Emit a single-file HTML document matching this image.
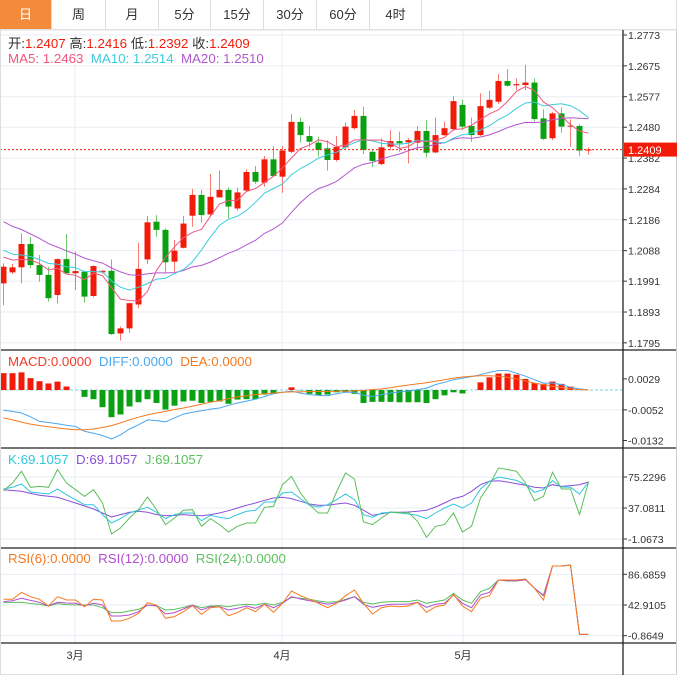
<!DOCTYPE html>
<html><head><meta charset="utf-8"><style>
html,body{margin:0;padding:0;background:#fff;}
body{width:677px;height:675px;overflow:hidden;position:relative;font-family:"Liberation Sans","Noto Sans CJK SC",sans-serif;}
.tabs{position:absolute;left:0;top:0;width:676px;height:29px;border-bottom:1px solid #ddd;border-right:1px solid #ddd;display:flex;}
.tab{height:29px;line-height:29px;text-align:center;font-size:13px;color:#333;border-right:1px solid #ddd;box-sizing:border-box;}
.tab.on{background:#f28c3c;color:#fff;}
svg{position:absolute;left:0;top:0;}
</style></head><body>
<div class="tabs">
<div class="tab on" style="width:52px">日</div>
<div class="tab" style="width:54px">周</div>
<div class="tab" style="width:53px">月</div>
<div class="tab" style="width:52px">5分</div>
<div class="tab" style="width:53px">15分</div>
<div class="tab" style="width:53px">30分</div>
<div class="tab" style="width:53px">60分</div>
<div class="tab" style="width:52px">4时</div>
</div>
<svg id="chart" width="677" height="675" style="top:0"></svg>
<script>
const opens=[1.1984,1.2019,1.2035,1.2109,1.2042,1.2011,1.1947,1.2061,1.2016,1.2021,1.1944,1.2019,1.2024,1.1825,1.1841,1.1917,1.2060,1.2180,1.2154,1.2053,1.2097,1.2199,1.2265,1.2203,1.2257,1.2281,1.2222,1.2279,1.2338,1.2304,1.2378,1.2323,1.2402,1.2497,1.2452,1.2431,1.2413,1.2376,1.2416,1.2477,1.2516,1.2402,1.2363,1.2418,1.2436,1.2432,1.2431,1.2468,1.2400,1.2455,1.2474,1.2551,1.2484,1.2455,1.2542,1.2561,1.2627,1.2613,1.2614,1.2622,1.2508,1.2445,1.2524,1.2482,1.2484,1.2407];
const highs=[1.2048,1.2046,1.2143,1.2132,1.2074,1.2037,1.2064,1.2141,1.2085,1.2024,1.2042,1.2027,1.2060,1.1847,1.1923,1.2113,1.2198,1.2201,1.2159,1.2122,1.2198,1.2284,1.2281,1.2332,1.2342,1.2289,1.2288,1.2346,1.2357,1.2389,1.2420,1.2420,1.2522,1.2511,1.2484,1.2450,1.2439,1.2452,1.2495,1.2535,1.2545,1.2408,1.2445,1.2471,1.2466,1.2445,1.2484,1.2503,1.2511,1.2498,1.2579,1.2567,1.2511,1.2588,1.2596,1.2649,1.2665,1.2635,1.2678,1.2635,1.2537,1.2529,1.2543,1.2505,1.2490,1.2416];
const lows=[1.1915,1.2014,1.1984,1.2032,1.1989,1.1926,1.1921,1.2016,1.1963,1.1923,1.1940,1.2016,1.1820,1.1802,1.1827,1.1905,1.2046,1.2132,1.2016,1.2021,1.2095,1.2164,1.2177,1.2199,1.2257,1.2191,1.2215,1.2275,1.2300,1.2291,1.2323,1.2272,1.2397,1.2431,1.2416,1.2387,1.2342,1.2371,1.2410,1.2473,1.2395,1.2353,1.2360,1.2406,1.2402,1.2365,1.2408,1.2384,1.2397,1.2452,1.2469,1.2471,1.2434,1.2452,1.2537,1.2554,1.2609,1.2598,1.2598,1.2498,1.2439,1.2439,1.2463,1.2418,1.2389,1.2392];
const closes=[1.2037,1.2035,1.2109,1.2042,1.2011,1.1937,1.2061,1.2016,1.2023,1.1942,1.2039,1.2024,1.1823,1.1841,1.1921,1.2030,1.2178,1.2154,1.2051,1.2088,1.2174,1.2265,1.2201,1.2259,1.2281,1.2228,1.2273,1.2338,1.2307,1.2378,1.2325,1.2406,1.2497,1.2455,1.2434,1.2408,1.2376,1.2417,1.2482,1.2516,1.2408,1.2373,1.2416,1.2436,1.2429,1.2439,1.2468,1.2399,1.2455,1.2477,1.2563,1.2482,1.2455,1.2547,1.2567,1.2627,1.2612,1.2617,1.2622,1.2506,1.2443,1.2524,1.2482,1.2485,1.2406,1.2409];
const prevCloses=[1.2330,1.2310,1.2325,1.2290,1.2270,1.2285,1.2250,1.2230,1.2200,1.2210,1.2170,1.2130,1.2090,1.2110,1.2060,1.2080,1.2100,1.2050,1.2070];
const priceTicks=[1.2773,1.2675,1.2577,1.2480,1.2382,1.2284,1.2186,1.2088,1.1991,1.1893,1.1795];
const macdBars=[0.0044,0.0044,0.0046,0.0031,0.0023,0.0017,0.0022,0.0009,0.0000,-0.0018,-0.0024,-0.0045,-0.0071,-0.0064,-0.0043,-0.0032,-0.0024,-0.0034,-0.0051,-0.0041,-0.0030,-0.0028,-0.0034,-0.0031,-0.0030,-0.0036,-0.0025,-0.0024,-0.0024,-0.0012,-0.0010,0.0000,0.0007,-0.0001,-0.0010,-0.0013,-0.0012,-0.0006,-0.0005,-0.0010,-0.0034,-0.0031,-0.0031,-0.0031,-0.0032,-0.0032,-0.0032,-0.0034,-0.0024,-0.0014,-0.0006,-0.0009,0.0000,0.0020,0.0033,0.0043,0.0043,0.0040,0.0029,0.0018,0.0016,0.0022,0.0016,0.0009,0.0001,0.0000];
const diffVals=[-0.0053,-0.0056,-0.0060,-0.0070,-0.0082,-0.0085,-0.0088,-0.0092,-0.0095,-0.0108,-0.0113,-0.0119,-0.0128,-0.0117,-0.0102,-0.0091,-0.0078,-0.0080,-0.0083,-0.0073,-0.0063,-0.0058,-0.0054,-0.0050,-0.0047,-0.0040,-0.0034,-0.0029,-0.0024,-0.0017,-0.0010,-0.0006,-0.0003,-0.0008,-0.0012,-0.0014,-0.0015,-0.0010,-0.0006,-0.0006,-0.0014,-0.0017,-0.0012,-0.0008,-0.0005,-0.0003,0.0001,0.0005,0.0014,0.0020,0.0027,0.0031,0.0035,0.0040,0.0046,0.0051,0.0051,0.0044,0.0036,0.0027,0.0018,0.0018,0.0014,0.0007,0.0003,0.0000];
const deaVals=[-0.0073,-0.0078,-0.0084,-0.0089,-0.0093,-0.0096,-0.0099,-0.0102,-0.0104,-0.0104,-0.0102,-0.0098,-0.0093,-0.0086,-0.0078,-0.0071,-0.0065,-0.0060,-0.0056,-0.0051,-0.0047,-0.0042,-0.0037,-0.0032,-0.0028,-0.0023,-0.0018,-0.0015,-0.0012,-0.0010,-0.0008,-0.0006,-0.0005,-0.0005,-0.0004,-0.0004,-0.0004,-0.0003,-0.0003,-0.0002,-0.0001,0.0001,0.0003,0.0006,0.0010,0.0013,0.0016,0.0019,0.0023,0.0027,0.0031,0.0034,0.0036,0.0037,0.0037,0.0036,0.0033,0.0029,0.0024,0.0018,0.0014,0.0010,0.0007,0.0003,0.0001,0.0000];
const macdTicks=[0.0029,-0.0052,-0.0132];
const kVals=[60.5,62.5,66.6,56.8,55.5,54.3,60.5,53.5,47.3,41.2,41.2,28.9,18.6,24.0,30.9,34.6,37.9,31.8,24.0,28.9,30.9,30.9,21.5,28.0,25.6,24.0,28.9,33.0,34.2,44.5,44.5,55.5,56.8,48.6,40.4,38.3,41.2,47.3,54.3,47.3,28.9,25.6,30.9,31.8,30.9,29.7,28.0,24.0,30.9,37.1,42.0,37.1,43.2,60.5,69.9,75.2,73.2,71.1,65.8,56.4,59.6,70.7,62.9,62.5,54.3,69.1];
const dVals=[59.6,58.6,57.6,55.0,52.7,51.5,50.2,46.7,43.2,39.5,35.9,30.9,26.0,28.9,31.8,33.0,31.8,28.9,27.6,28.0,28.9,28.0,27.6,28.9,30.9,33.8,37.1,40.4,43.2,46.5,49.4,50.2,48.6,45.3,42.0,40.4,40.4,42.0,43.2,40.4,34.2,28.0,30.1,31.8,31.8,32.2,33.0,34.2,38.3,43.2,48.6,51.4,57.6,65.8,69.9,70.7,69.1,67.0,65.0,62.5,61.7,65.8,63.7,64.6,65.8,69.1];
const jVals=[58.4,67.8,82.2,62.5,63.7,62.5,84.3,67.8,59.6,51.4,59.6,43.2,5.1,12.5,24.8,35.0,50.6,35.0,16.6,24.8,34.2,35.0,14.5,24.0,16.6,7.5,14.5,18.6,18.6,37.9,39.1,65.8,76.0,55.5,41.2,30.9,30.9,56.8,80.1,72.8,19.9,16.6,24.8,32.2,31.4,31.4,20.7,1.0,14.5,16.6,30.9,7.5,14.5,49.4,65.8,86.3,84.3,82.2,67.9,46.1,51.4,81.0,60.5,60.5,28.9,69.1];
const kdjTicks=[75.2296,37.0811,-1.0673];
const rsi6=[51.0,51.0,61.0,54.8,51.0,41.5,54.8,50.0,50.0,40.5,51.0,50.0,20.1,20.1,23.9,31.0,46.2,42.9,23.9,26.3,33.4,42.0,29.6,39.1,40.5,27.7,32.0,39.1,33.4,43.9,32.5,45.3,62.9,56.2,51.0,45.3,39.1,45.3,56.2,64.3,45.3,30.1,39.1,41.5,40.5,41.5,46.7,32.5,40.5,42.9,58.1,41.5,33.4,52.4,56.2,78.6,78.6,78.6,80.0,66.7,50.0,98.5,98.5,100.0,1.0,1.0];
const rsi12=[47.7,49.0,52.4,49.5,46.7,41.5,46.7,45.8,45.3,41.5,45.3,42.9,27.2,27.2,28.6,33.4,42.9,41.5,30.1,32.0,37.2,42.9,35.8,40.5,40.5,35.8,38.2,41.5,38.2,43.9,39.1,45.3,54.8,51.4,49.0,46.7,43.9,46.2,50.0,54.8,43.9,39.6,42.0,43.9,43.9,44.4,46.7,39.6,43.9,45.3,57.2,45.3,39.1,57.2,61.0,78.6,77.6,77.6,79.0,66.7,56.2,98.5,98.5,100.0,1.0,1.0];
const rsi24=[46.2,46.5,46.7,45.0,44.0,41.5,44.9,43.5,42.9,42.9,42.9,39.0,32.0,32.0,34.4,36.7,42.9,42.0,35.8,36.7,39.6,42.9,39.1,41.5,42.0,40.5,42.9,43.9,42.9,45.3,42.9,46.7,53.8,52.4,51.0,48.6,46.7,47.7,51.0,54.8,46.7,44.4,46.7,47.7,47.7,47.7,50.0,45.3,47.7,50.0,59.5,50.0,45.3,61.9,66.7,78.6,77.1,77.1,79.0,66.7,57.2,98.5,98.5,100.0,1.0,1.0];
const rsiTicks=[86.6859,42.9105,-0.8649];
const monthLabels=['3月','4月','5月'];

const NS='http://www.w3.org/2000/svg';
const svg=document.getElementById('chart');
function mk(tag,attrs,parent){const e=document.createElementNS(NS,tag);for(const k in attrs)e.setAttribute(k,attrs[k]);(parent||svg).appendChild(e);return e;}
const AX=623;
const xOf=i=>3.5+9*i;
const yP=p=>35+(1.2773-p)/0.0098*30.85;
const yM=v=>390-v*3827;
const yK=v=>508-(v-37.0811)*0.8126;
const yR=v=>605-(v-42.9105)*0.701;
const gridCol='#e6edf2';

const defs=mk('defs',{});
const cp=mk('clipPath',{id:'plot'},defs);
mk('rect',{x:0,y:30,width:AX,height:613},cp);

priceTicks.forEach(t=>{const l=mk('line',{x1:0,x2:AX,y1:yP(t),y2:yP(t),stroke:gridCol});

});
const gx=[75,282,463];
gx.forEach(x=>{const l=mk('line',{x1:x,x2:x,y1:30,y2:643,stroke:gridCol});

});
[-0.0052].forEach(t=>mk('line',{x1:0,x2:AX,y1:yM(t),y2:yM(t),stroke:gridCol}));
kdjTicks.forEach(t=>mk('line',{x1:0,x2:AX,y1:yK(t),y2:yK(t),stroke:gridCol}));
rsiTicks.forEach(t=>mk('line',{x1:0,x2:AX,y1:yR(t),y2:yR(t),stroke:gridCol}));

const plot=mk('g',{'clip-path':'url(#plot)'});

for(let i=0;i<closes.length;i++){
  const up=closes[i]>=opens[i];
  const col=up?'#f21b0a':'#0aa012';
  const wcol=up?'#f57a70':'#6cc86c';
  const g=mk('g',{},plot);
  
  
  mk('line',{x1:xOf(i),x2:xOf(i),y1:yP(highs[i]),y2:yP(lows[i]),stroke:wcol,'stroke-width':1},g);
  const t=yP(Math.max(opens[i],closes[i])),b=yP(Math.min(opens[i],closes[i]));
  mk('rect',{x:xOf(i)-3,y:t,width:6,height:Math.max(1,b-t),fill:col},g);
}
const allC=prevCloses.concat(closes);
function ma(n){const r=[];for(let i=0;i<closes.length;i++){let s=0;const j=i+prevCloses.length;for(let k=j-n+1;k<=j;k++)s+=allC[k];r.push(s/n);}return r;}
function poly(vals,yf,col,name,parent){const p=mk('polyline',{points:vals.map((v,i)=>xOf(i)+','+yf(v).toFixed(1)).join(' '),fill:'none',stroke:col,'stroke-width':1},parent||plot);

return p;}
poly(ma(20),yP,'#b357cf','ma20-line');
poly(ma(10),yP,'#3ccbe0','ma10-line');
poly(ma(5),yP,'#f2567e','ma5-line');
const last=closes[closes.length-1];
const cl=mk('line',{x1:0,x2:AX,y1:yP(last),y2:yP(last),stroke:'#f21b0a','stroke-dasharray':'2,2'});



mk('line',{x1:0,x2:AX,y1:yM(0),y2:yM(0),stroke:'#7fd3e6','stroke-dasharray':'3,2'},plot);
macdBars.forEach((v,i)=>{if(Math.abs(v)<0.00005)return;const r=mk('rect',{x:xOf(i)-3,y:Math.min(yM(v),yM(0)),width:6,height:Math.abs(yM(v)-yM(0)),fill:v>0?'#f21b0a':'#0aa012'},plot);

});
poly(diffVals,yM,'#4aa8f0','diff-line');
poly(deaVals,yM,'#f57a20','dea-line');
poly(dVals,yK,'#8a4fd8','d-line');
poly(kVals,yK,'#2fc6e0','k-line');
poly(jVals,yK,'#5cbf5c','j-line');
poly(rsi24,yR,'#5cbf5c','rsi24-line');
poly(rsi12,yR,'#b04fd0','rsi12-line');
poly(rsi6,yR,'#f57a20','rsi6-line');

[350,448,548,643].forEach(y=>{const l=mk('line',{x1:0,x2:677,y1:y,y2:y,stroke:'#222','stroke-width':1.3});

});
mk('line',{x1:0,x2:677,y1:30,y2:30,stroke:'#e3e3e3'});
mk('line',{x1:0.5,x2:0.5,y1:30,y2:675,stroke:'#ddd'});
mk('line',{x1:676.5,x2:676.5,y1:30,y2:675,stroke:'#ccc'});
mk('line',{x1:0,x2:677,y1:674.5,y2:674.5,stroke:'#ddd'});
const ax=mk('line',{x1:AX,x2:AX,y1:30,y2:675,stroke:'#222','stroke-width':1.3});



function txt(s,x,y,col,size,name,anchor){const t=mk('text',{x:x,y:y,fill:col,'font-size':size,'text-anchor':anchor||'start'});t.textContent=s;

return t;}
function ticks(arr,yf,fmt){arr.forEach(t=>{mk('line',{x1:AX,x2:AX+4,y1:yf(t),y2:yf(t),stroke:'#333'});txt(fmt(t),AX+5,yf(t)+4,'#333',10.5,'y-tick-label');});}
ticks(priceTicks,yP,v=>v.toFixed(4));
ticks(macdTicks,yM,v=>v.toFixed(4));
ticks(kdjTicks,yK,v=>v.toFixed(4));
ticks(rsiTicks,yR,v=>v.toFixed(4));
const tag=mk('rect',{x:AX+1,y:yP(last)-7,width:54,height:14,fill:'#f21b0a'});


txt(last.toFixed(4),AX+5,yP(last)+4.5,'#fff',11,'current-price-value');
monthLabels.forEach((m,k)=>txt(m,gx[k],659,'#333',11,'x-tick-label','middle'));

function legend(parts,x,y,name){const t=mk('text',{x:x,y:y,'font-size':13.3,'xml:space':'preserve'});


t.style.whiteSpace='pre';
parts.forEach(p=>{const s=mk('tspan',{fill:p[1]},t);s.textContent=p[0];});}
legend([['开:','#333'],['1.2407 ','#f21b0a'],['高:','#333'],['1.2416 ','#f21b0a'],['低:','#333'],['1.2392 ','#f21b0a'],['收:','#333'],['1.2409','#f21b0a']],8,48,'ohlc-legend');
legend([['MA5: 1.2463  ','#f2567e'],['MA10: 1.2514  ','#3ccbe0'],['MA20: 1.2510','#b357cf']],8,63,'ma-legend');
legend([['MACD:0.0000  ','#f23a2a'],['DIFF:0.0000  ','#4aa8f0'],['DEA:0.0000','#f57a20']],8,366,'macd-legend');
legend([['K:69.1057  ','#2fc6e0'],['D:69.1057  ','#8a4fd8'],['J:69.1057','#5cbf5c']],8,464,'kdj-legend');
legend([['RSI(6):0.0000  ','#f57a20'],['RSI(12):0.0000  ','#b04fd0'],['RSI(24):0.0000','#5cbf5c']],8,563,'rsi-legend');
</script>
</body></html>
